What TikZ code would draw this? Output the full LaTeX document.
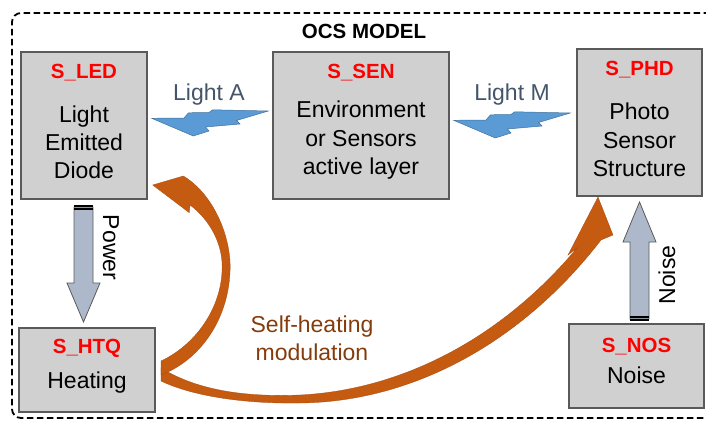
\documentclass[tikz,border=0pt]{standalone}
\usepackage{fontspec}
\setmainfont{Liberation Sans}
\definecolor{boxgray}{HTML}{D0D0D0}
\definecolor{boxborder}{HTML}{5A5A5A}
\definecolor{lightblue}{HTML}{5B9BD5}
\definecolor{lightborder}{HTML}{41719C}
\definecolor{lighttext}{HTML}{44546A}
\definecolor{arrowfill}{HTML}{ADB9CA}
\definecolor{orangearrow}{HTML}{C55A11}
\definecolor{browntext}{HTML}{843C0C}
\definecolor{labelred}{HTML}{FF0000}
\begin{document}
\begin{tikzpicture}[x=1pt,y=-1pt,
  box/.style={draw=boxborder, fill=boxgray, line width=1.1pt, inner sep=0pt, outer sep=0pt},
  lbl/.style={text=labelred, font=\bfseries\fontsize{20.5}{24}\selectfont, anchor=base, inner sep=0pt},
  body/.style={font=\fontsize{23}{28}\selectfont, anchor=base, inner sep=0pt},
  lighttxt/.style={text=lighttext, font=\fontsize{23}{28}\selectfont, anchor=base, inner sep=0pt},
  bolt/.style={fill=lightblue, draw=lightborder, line width=0.5pt, line join=miter},
  fatarrow/.style={fill=arrowfill, draw=boxborder, line width=0.8pt},
  orangeshape/.style={fill=orangearrow, draw=orangearrow!85!black, line width=0.3pt},
  brown/.style={text=browntext, font=\fontsize{23}{28}\selectfont, anchor=base, inner sep=0pt},
  border/.style={draw=black, line width=1.8pt, dash pattern=on 6.5pt off 3.5pt, rounded corners=9pt}
]
\useasboundingbox (0,0) rectangle (706,423);
\clip (0,0) rectangle (706,423);

% dashed frame
\draw[border] (740,13) -- (12,13) -- (12,418) -- (740,418);
\node[font=\bfseries\fontsize{20.5}{24}\selectfont, anchor=base, inner sep=0pt] (title) at (364,38) {OCS MODEL};

% boxes
\node[box, minimum width=126pt, minimum height=147pt] (led) at (84,125.5) {};
\node[box, minimum width=176pt, minimum height=147pt] (sen) at (361,125.5) {};
\node[box, minimum width=125pt, minimum height=147pt] (phd) at (639.5,122.5) {};
\node[box, minimum width=136pt, minimum height=84pt] (htq) at (87,370) {};
\node[box, minimum width=135pt, minimum height=84pt] (nos) at (636.5,366) {};

% box texts
\node[lbl] (ledl) at (84,78) {S\_LED};
\node[body] (led1) at (84,122) {Light};
\node[body] (led2) at (84,150) {Emitted};
\node[body] (led3) at (84,178) {Diode};

\node[lbl] (senl) at (361,78) {S\_SEN};
\node[body] (sen1) at (361,117) {Environment};
\node[body] (sen2) at (361,146) {or Sensors};
\node[body] (sen3) at (361,174) {active layer};

\node[lbl] (phdl) at (639.5,75) {S\_PHD};
\node[body] (phd1) at (639.5,119) {Photo};
\node[body] (phd2) at (639.5,148) {Sensor};
\node[body] (phd3) at (639.5,176) {Structure};

\node[lbl] (htql) at (87,353) {S\_HTQ};
\node[body] (htq1) at (87,388) {Heating};

\node[lbl] (nosl) at (636.5,352) {S\_NOS};
\node[body] (nos1) at (636.5,383) {Noise};

% lightning bolts
\node[lighttxt] (lighta) at (209,100) {Light A};
\node[lighttxt] (lightm) at (512,100) {Light M};
\path[bolt] (268.3,111) -- (236.5,120.5) -- (240,124) -- (205.5,127) -- (209,131)
  -- (193.3,136) -- (151.7,118.3) -- (184,118) -- (188.5,112.8) -- (209,112.5)
  -- (212.5,109.8) -- cycle;
\begin{scope}[shift={(302,2)}]
\path[bolt] (268.3,111) -- (236.5,120.5) -- (240,124) -- (205.5,127) -- (209,131)
  -- (193.3,136) -- (151.7,118.3) -- (184,118) -- (188.5,112.8) -- (209,112.5)
  -- (212.5,109.8) -- cycle;
\end{scope}

% Power arrow (LED -> HTQ)
\path[fatarrow] (74,207) -- (93,207) -- (93,283) -- (100,283) -- (83.5,322) -- (67,283) -- (74,283) -- cycle;
\fill[black] (74,205) rectangle (93,207.2);
\fill[black] (74,208.4) rectangle (93,210.4);
\node[font=\fontsize{23}{28}\selectfont, anchor=base, inner sep=0pt, rotate=-90] (power) at (103,247.5) {Power};

% Noise arrow (NOS -> PHD)
\path[fatarrow] (630,319) -- (649,319) -- (649,242) -- (656,242) -- (639.5,202) -- (623,242) -- (630,242) -- cycle;
\fill[black] (630,321) rectangle (649,318.8);
\fill[black] (630,317.6) rectangle (649,315.6);
\node[font=\fontsize{23}{28}\selectfont, anchor=base, inner sep=0pt, rotate=90] (noisel) at (675,275) {Noise};

% orange curved arrows
\path[orangeshape] (161,368) .. controls (200,392) and (250,397) .. (300,395)
  .. controls (400,390) and (500,340) .. (577,248) -- (568,255) -- (598,197) -- (613,235)
  -- (601,240) .. controls (520,345) and (410,402) .. (300,403)
  .. controls (240,404) and (190,395) .. (161,381) -- cycle;
\path[orangeshape] (152.7,185) -- (183.3,176) .. controls (215,195) and (232,240) .. (230,272)
  .. controls (228,320) and (200,360) .. (161,375) -- (161,361)
  .. controls (195,345) and (220,310) .. (222,272)
  .. controls (224,245) and (210,220) .. (190,205) -- (189.3,212.7) -- cycle;

\node[brown] (sh1) at (312,332) {Self-heating};
\node[brown] (sh2) at (312,360) {modulation};
\end{tikzpicture}
\end{document}
